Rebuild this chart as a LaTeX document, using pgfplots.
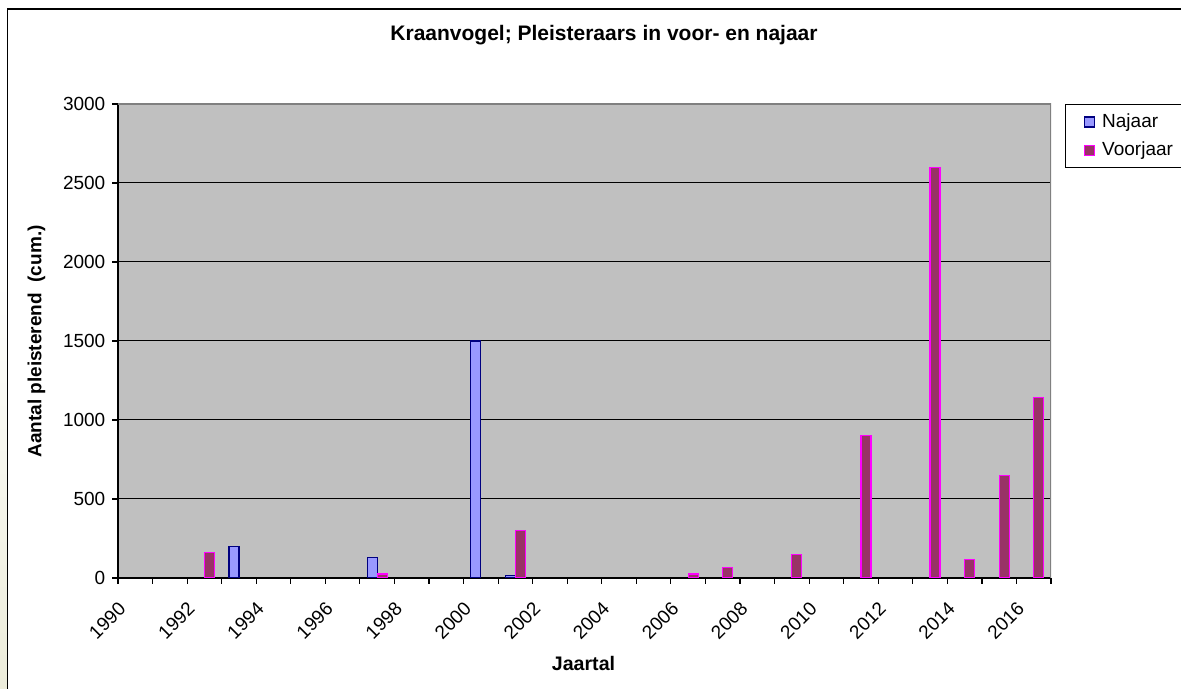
\documentclass[border=0pt]{standalone}
\usepackage{fontspec}
\setmainfont{Liberation Sans}
\usepackage{pgfplots}
\pgfplotsset{compat=1.18}

\definecolor{najaar}{RGB}{153,153,255}
\definecolor{najaarrand}{RGB}{0,0,128}
\definecolor{voorjaar}{RGB}{153,51,102}
\definecolor{voorjaarrand}{RGB}{255,0,255}
\definecolor{plotgrijs}{RGB}{192,192,192}
\definecolor{randgrijs}{RGB}{128,128,128}
\definecolor{strook}{RGB}{236,236,218}

\begin{document}
\fontsize{9.5}{11}\selectfont
\begin{tikzpicture}
\useasboundingbox (-59pt,-55.5pt) rectangle (531.5pt,289pt);
% achtergrond links en kader
\shade[top color=white, bottom color=strook] (-59pt,-55.5pt) rectangle (-55.5pt,160pt);
\draw[line width=0.9pt] (-55.25pt,-60pt) -- (-55.25pt,284.5pt) -- (540pt,284.5pt);

\begin{axis}[
    scale only axis,
    width=466.5pt, height=237pt,
    xmin=1989.5, xmax=2016.5,
    ymin=0, ymax=3000,
    ybar=0pt, bar width=5pt,
    axis background/.style={fill=plotgrijs},
    axis lines=left,
    axis line style={-, black, line width=0.6pt},
    xtick={1989.5,1990.5,...,2016.5},
    xticklabels={1990,,1992,,1994,,1996,,1998,,2000,,2002,,2004,,2006,,2008,,2010,,2012,,2014,,2016,},
    ytick={0,500,...,3000},
    tick align=outside,
    major tick length=3pt,
    tick style={black, line width=0.6pt},
    ymajorgrids,
    grid style={black, line width=0.5pt},
    /pgf/number format/assume math mode=true,
    /pgf/number format/1000 sep={},
    xticklabel style={shift={(4.5pt,-8.5pt)}, rotate=45, anchor=east},
    legend style={
        at={(1.015,1)}, anchor=north west,
        draw=black, line width=0.6pt, fill=white,
        row sep=2pt, inner xsep=9pt, inner ysep=2.5pt,
    },
    legend cell align=left,
    legend image code/.code={
        \path[draw=none, fill=none] (0pt,0pt) -- (7pt,0pt);
        \draw[#1, line width=0.6pt] (0pt,-2.5pt) rectangle (5pt,2.5pt);
    },
]

% Najaar
\addplot[fill=najaar, draw=najaarrand, line width=0.6pt] coordinates {
    (1993, 200)
    (1997, 130)
    (2000, 1500)
    (2001, 15)
};

% Voorjaar
\addplot[fill=voorjaar, draw=voorjaarrand, line width=0.6pt] coordinates {
    (1992, 160)
    (1997, 25)
    (2001, 300)
    (2006, 25)
    (2007, 65)
    (2009, 150)
    (2011, 900)
    (2013, 2600)
    (2014, 115)
    (2015, 650)
    (2016, 1140)
};

\legend{Najaar, Voorjaar}

% grijze rand rechts en boven het plotvlak
\draw[randgrijs, line width=0.6pt] (rel axis cs:0,1) -- (rel axis cs:1,1) -- (rel axis cs:1,0);
\end{axis}

\node[font=\fontsize{10.5}{12}\selectfont\bfseries, anchor=base] at (243pt,268.5pt) {Kraanvogel; Pleisteraars in voor- en najaar};
\node[font=\fontsize{9.5}{11}\selectfont\bfseries, rotate=90, anchor=base] at (-38.25pt,118.25pt) {Aantal pleisterend\ \ (cum.)};
\node[font=\fontsize{9.8}{11}\selectfont\bfseries, anchor=base] at (232.75pt,-46.5pt) {Jaartal};
\end{tikzpicture}
\end{document}
